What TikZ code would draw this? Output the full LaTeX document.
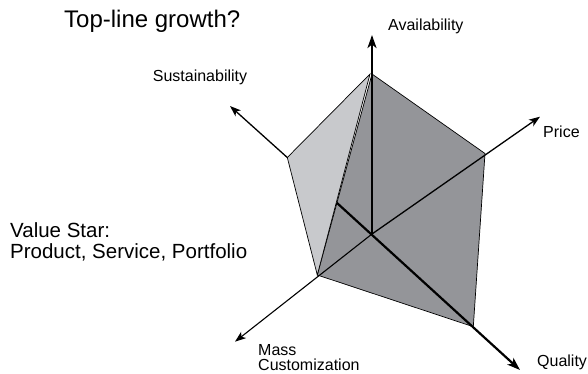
\documentclass[tikz,border=0pt]{standalone}
\usepackage{fontspec}
\setmainfont{Liberation Sans}
\usetikzlibrary{arrows.meta}
\definecolor{darkface}{RGB}{148,149,153}
\definecolor{lightface}{RGB}{200,201,204}
\begin{document}
\begin{tikzpicture}[x=1bp,y=1bp,
  face/.style={draw=black,line width=0.7bp,line join=miter},
  axis/.style={line width=1.3bp,-{Stealth[length=11bp,width=8bp,inset=3bp]}},
  main axis/.style={axis,line width=2.2bp,-{Stealth[length=13bp,width=9bp,inset=3.5bp]}},
  label/.style={inner sep=0pt,font=\fontsize{16bp}{15bp}\selectfont}]

  \useasboundingbox (-372,-139) rectangle (216,234);

  \coordinate (o) at (0,0);
  \coordinate (av) at (0,160);
  \coordinate (av2) at (-2,160);
  \coordinate (pr) at (113,80.5);
  \coordinate (qu) at (101.3,-92.7);
  \coordinate (ma) at (-54.7,-41);
  \coordinate (su) at (-84.7,76.5);
  \coordinate (qb) at (-35.3,31.3);

  \coordinate (avtip) at (0,199);
  \coordinate (prtip) at (168,117.3);
  \coordinate (qutip) at (148,-136);
  \coordinate (matip) at (-137,-107.7);
  \coordinate (sutip) at (-142,128);

  \filldraw[face,fill=darkface] (av) -- (pr) -- (qu) -- (ma) -- cycle;
  \filldraw[face,fill=lightface] (av2) -- (su) -- (ma) -- cycle;

  \draw[main axis] (o) -- (avtip);
  \draw[main axis] (qb) -- (qutip);
  \draw[axis] (o) -- (prtip);
  \draw[axis,line width=1.1bp] (o) -- (matip);
  \draw[axis] (su) -- (sutip);

  \node[label,anchor=base west] (avlabel) at (16,204) {Availability};
  \node[label,anchor=base west] (prlabel) at (171,97) {Price};
  \node[label,anchor=base west] (qulabel) at (165,-132.2) {Quality};
  \node[label,anchor=base west,align=left] (malabel) at (-114,-136) {Mass\\Customization};
  \node[label,anchor=base] (sulabel) at (-172,153) {Sustainability};

  \node[inner sep=0pt,anchor=base west,font=\fontsize{24bp}{28bp}\selectfont] (title) at (-308,206.3) {Top-line growth?};
  \node[inner sep=0pt,anchor=base west,align=left,font=\fontsize{20.5bp}{20.6bp}\selectfont] (valuestar) at (-362,-24.3) {Value Star:\\Product, Service, Portfolio};
\end{tikzpicture}
\end{document}
